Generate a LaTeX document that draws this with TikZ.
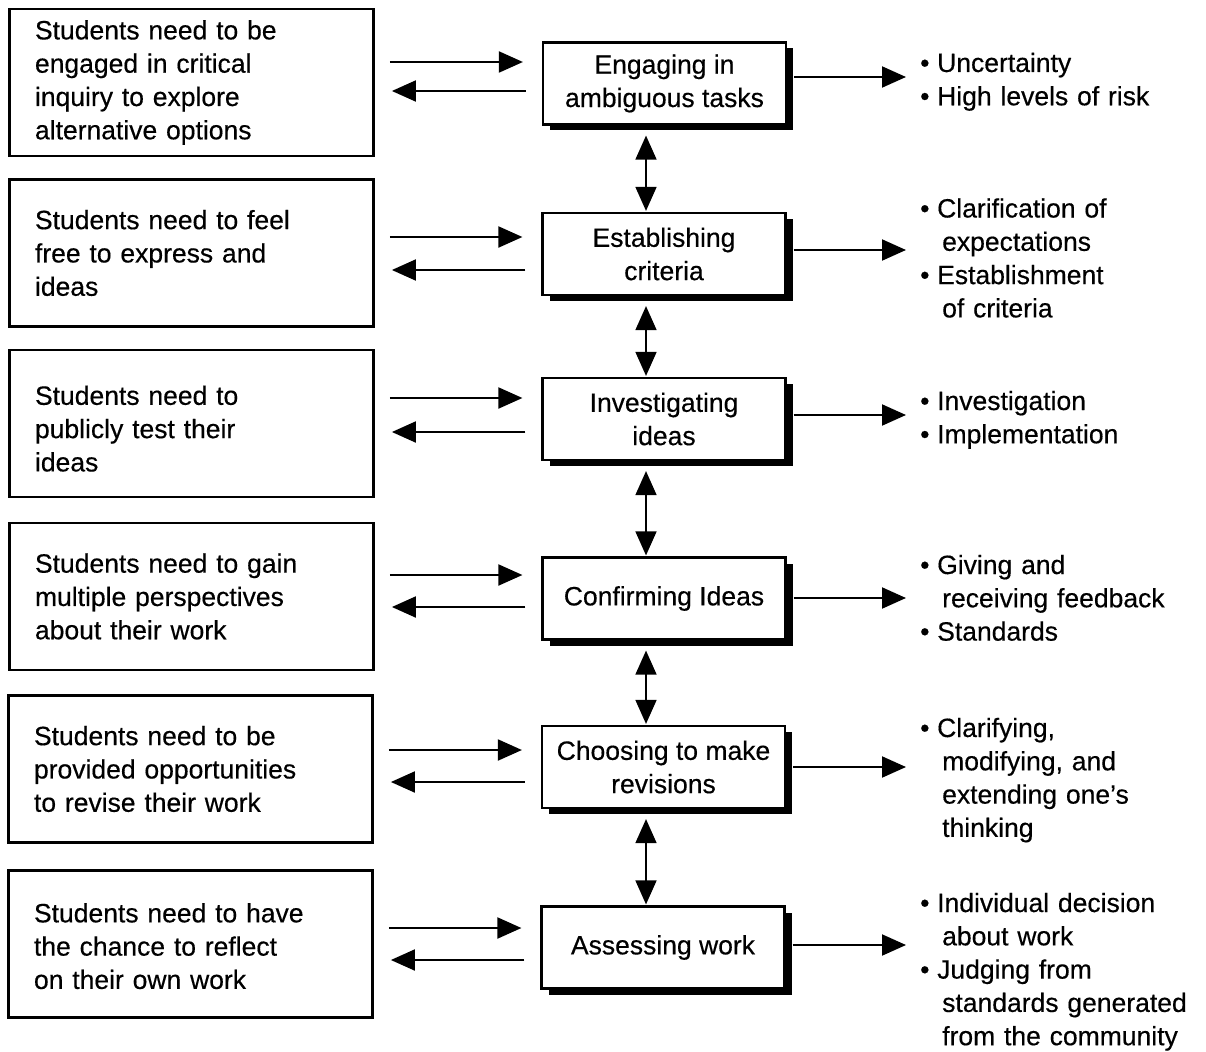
\documentclass[tikz,border=0pt]{standalone}
\usepackage{fontspec}
\setmainfont{Liberation Sans}[FakeBold=0.4]
\usetikzlibrary{arrows.meta,shadows}
% bullet item and its continuation lines
\newcommand\bul[1]{\makebox[17pt][l]{\textbullet}#1}
\newcommand\cont[1]{\hspace*{22pt}#1}

\begin{document}
\begin{tikzpicture}[x=1pt,y=-1pt,
  font=\fontsize{26.5}{33.3}\selectfont,
  leftbox/.style={draw, line width=2.8pt, minimum width=364pt, minimum height=147pt,
    text width=313pt, align=left, inner sep=0pt},
  stagebox/.style={draw, fill=white, line width=2.2pt, minimum width=243pt, minimum height=82pt,
    align=center, inner sep=0pt,
    drop shadow={shadow xshift=7pt, shadow yshift=-6pt, fill=black, opacity=1}},
  outcome/.style={anchor=base west, text width=290pt, align=left, inner sep=0pt},
  tip/.tip={Triangle[length=24pt,width=21pt]},
  arr/.style={line width=2pt, -tip},
  link/.style={line width=1.6pt, tip-tip},
]
\useasboundingbox (0,0) rectangle (1206,1051);

% conditions for students
\node[leftbox] (L1) at (191.5,82.5) {Students need to be\\engaged in critical\\inquiry to explore\\alternative options};
\node[leftbox] (L2) at (191.5,253) {Students need to feel\\free to express and\\ideas};
\node[leftbox, text height=29.5pt] (L3) at (191.5,423.5) {Students need to\\publicly test their\\ideas};
\node[leftbox] (L4) at (191.5,596.5) {Students need to gain\\multiple perspectives\\about their work};
\node[leftbox] (L5) at (190.5,769) {Students need to be\\provided opportunities\\to revise their work};
\node[leftbox, text height=23.5pt] (L6) at (190.5,944) {Students need to have\\the chance to reflect\\on their own work};

% stages of the process
\node[stagebox] (M1) at (664.5,83.5) {Engaging in\\ambiguous tasks};
\node[stagebox] (M2) at (664,254) {Establishing\\criteria};
\node[stagebox] (M3) at (664,419) {Investigating\\ideas};
\node[stagebox] (M4) at (664,598.5) {Confirming Ideas};
\node[stagebox] (M5) at (663.5,767) {Choosing to make\\revisions};
\node[stagebox] (M6) at (663,947.5) {Assessing work};

% outcomes of each stage
\node[outcome] (R1) at (920,72) {\bul{Uncertainty}\\\bul{High levels of risk}};
\node[outcome] (R2) at (920,217.5) {\bul{Clarification of}\\\cont{expectations}\\\bul{Establishment}\\\cont{of criteria}};
\node[outcome] (R3) at (920,410) {\bul{Investigation}\\\bul{Implementation}};
\node[outcome] (R4) at (920,574) {\bul{Giving and}\\\cont{receiving feedback}\\\bul{Standards}};
\node[outcome] (R5) at (920,737) {\bul{Clarifying,}\\\cont{modifying, and}\\\cont{extending one's}\\\cont{thinking}};
\node[outcome] (R6) at (920,912) {\bul{Individual decision}\\\cont{about work}\\\bul{Judging from}\\\cont{standards generated}\\\cont{from the community}};

% arrows between conditions and stages, and from stages to outcomes
\foreach \i/\a/\b/\c in {1/62/91/77, 2/237/270/250, 3/398/432/415,
                          4/575/607/598, 5/750/782/767, 6/928/960/945} {
  \draw[arr, shorten <=15pt, shorten >=19pt] (L\i.east |- 0,\a) -- (M\i.west |- 0,\a);
  \draw[arr, shorten <=16pt, shorten >=17pt] (M\i.west |- 0,\b) -- (L\i.east |- 0,\b);
  \draw[arr, shorten <=7pt, shorten >=14pt] (M\i.east |- 0,\c) -- (R\i.west |- 0,\c);
}

% two-way links between consecutive stages
\foreach \i/\j in {1/2, 2/3, 3/4, 4/5, 5/6} {
  \draw[link, shorten <=10pt, shorten >=1pt] (M\i.south -| 646,0) -- (M\j.north -| 646,0);
}
\end{tikzpicture}
\end{document}
